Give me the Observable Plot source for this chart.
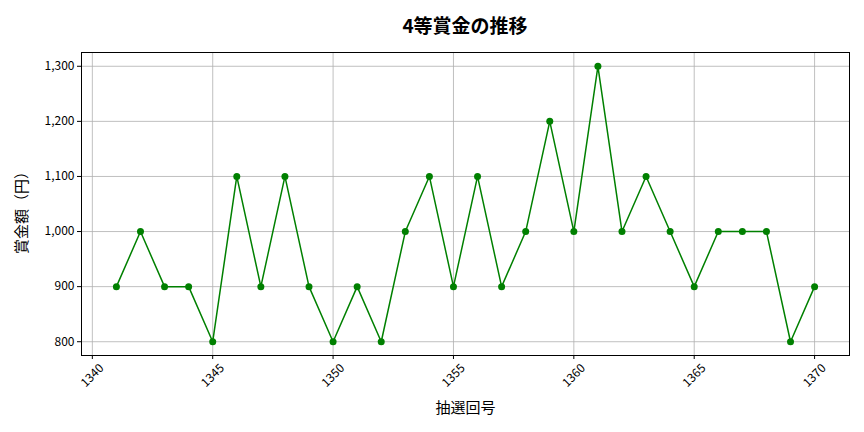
<!DOCTYPE html>
<html><head><meta charset="utf-8">
<script src="https://cdn.jsdelivr.net/npm/d3@7"></script>
<script src="https://cdn.jsdelivr.net/npm/@observablehq/plot@0.6"></script>
<style>
body{margin:0;background:#fff;font-family:"Noto Sans CJK JP","Noto Sans",sans-serif;}
#title{height:40px;line-height:50px;text-align:center;font-size:19px;font-weight:bold;width:768px;padding-left:81px;padding-right:15px;color:#000;}
</style></head>
<body>
<div id="title">4等賞金の推移</div>
<div id="chart"></div>
<script>
const draws = [1341,1342,1343,1344,1345,1346,1347,1348,1349,1350,1351,1352,1353,1354,1355,1356,1357,1358,1359,1360,1361,1362,1363,1364,1365,1366,1367,1368,1369,1370];
const prizes = [900,1000,900,900,800,1100,900,1100,900,800,900,800,1000,1100,900,1100,900,1000,1200,1000,1300,1000,1100,1000,900,1000,1000,1000,800,900];
const xTicks = [1340,1345,1350,1355,1360,1365,1370];
const yTicks = [800,900,1000,1100,1200,1300];
const data = draws.map((d,i)=>({draw:d, prize:prizes[i]}));
const fmt = d3.format(",");
const chart = Plot.plot({
  width: 864, height: 392,
  marginLeft: 81, marginRight: 15, marginTop: 12, marginBottom: 77,
  style: {fontFamily: '"Noto Sans CJK JP","Noto Sans",sans-serif', fontSize: "12px", color: "#000", background: "#fff"},
  x: {domain: [1339.55, 1371.45]},
  y: {domain: [775, 1325]},
  marks: [
    Plot.gridX(xTicks, {stroke: "#b0b0b0", strokeOpacity: 1, strokeWidth: 0.8}),
    Plot.gridY(yTicks, {stroke: "#b0b0b0", strokeOpacity: 1, strokeWidth: 0.8}),
    Plot.axisX(xTicks, {tickSize: 4, tickFormat: () => "", label: null}),
    Plot.text(xTicks, {x: d => d, frameAnchor: "bottom", dy: 20, rotate: -45, textAnchor: "middle", lineAnchor: "middle", fontSize: 12, text: d => String(d)}),
    Plot.axisY(yTicks, {tickSize: 4, tickPadding: 3, tickFormat: fmt, label: null, fontSize: 12}),
    Plot.text(["抽選回号"], {frameAnchor: "bottom", dy: 53, textAnchor: "middle", lineAnchor: "middle", fontSize: 15, text: d => d}),
    Plot.text(["賞金額（円）"], {frameAnchor: "left", dx: -59, dy: 5, rotate: -90, textAnchor: "middle", lineAnchor: "middle", fontSize: 15, text: d => d}),
    Plot.line(data, {x: "draw", y: "prize", stroke: "#008000", strokeWidth: 1.5}),
    Plot.dot(data, {x: "draw", y: "prize", fill: "#008000", r: 3.5}),
    Plot.frame({stroke: "#000", strokeWidth: 1})
  ]
});
document.getElementById("chart").appendChild(chart);
</script>
</body></html>
